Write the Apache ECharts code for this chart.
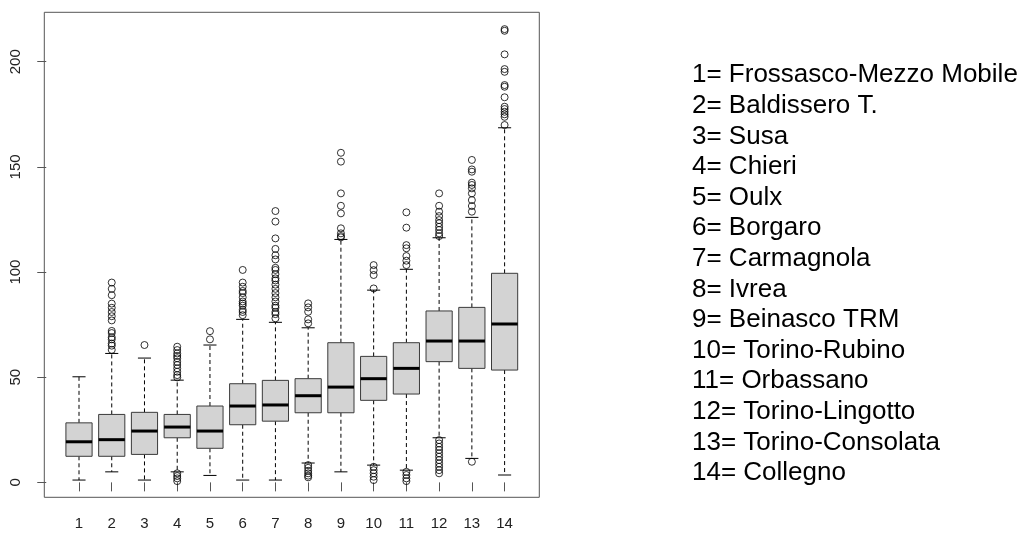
<!DOCTYPE html>
<html>
<head>
<meta charset="utf-8">
<script src="https://cdn.jsdelivr.net/npm/echarts@6/dist/echarts.min.js"></script>
<style>
html,body{margin:0;padding:0;background:#fff;}
#chart{width:1026px;height:533px;}
</style>
</head>
<body>
<div id="chart"></div>
<script>
// ---- data ----
const categories = [1,2,3,4,5,6,7,8,9,10,11,12,13,14];
const stationNames = [
  'Frossasco-Mezzo Mobile','Baldissero T.','Susa','Chieri','Oulx','Borgaro','Carmagnola',
  'Ivrea','Beinasco TRM','Torino-Rubino','Orbassano','Torino-Lingotto','Torino-Consolata','Collegno'
];
const whiskerLow  = [1.1, 5.0, 1.1, 5.0, 3.3, 1.1, 1.1, 9.2, 5.0, 8.2, 5.8, 21.2, 11.4, 3.5];
const q1          = [12.4, 12.4, 13.3, 21.2, 16.2, 27.4, 29.1, 33.1, 33.1, 39.0, 42.0, 57.4, 54.2, 53.4];
const medians     = [19.3, 20.3, 24.4, 26.3, 24.4, 36.3, 36.8, 41.2, 45.3, 49.3, 54.2, 67.2, 67.2, 75.3];
const q3          = [28.3, 32.3, 33.3, 32.3, 36.3, 46.9, 48.5, 49.3, 66.4, 59.9, 66.4, 81.5, 83.2, 99.4];
const whiskerHigh = [50.2, 61.3, 59.1, 48.6, 65.3, 77.5, 76.1, 73.5, 115.5, 91.4, 101.3, 116.3, 126.0, 168.6];
const outliers = [
  [],
  [95, 92, 89, 85, 83, 81, 79, 77, 72, 71, 69, 68, 66, 65, 63],
  [65.3],
  [64.5, 62.9, 61.3, 60.1, 59.0, 57.3, 55.8, 54.2, 52.6, 51.0, 49.9, 4.3, 3.0, 1.9, 0.6],
  [71.9, 68.0],
  [101, 95, 93, 91, 90, 88, 86, 85, 84, 82, 81, 79.5],
  [129, 124, 116, 111, 108, 106, 102, 101, 99, 97, 96, 94, 92, 90, 88, 86, 84, 83, 81, 80, 78],
  [85.1, 83.2, 81.1, 77.5, 75.6, 8.2, 6.9, 5.5, 4.3, 3.2, 2.4],
  [156.7, 152.5, 137.4, 131.5, 127.9, 120.8, 118.4, 117.1, 116.5],
  [103.3, 100.9, 98.6, 92.2, 7.4, 5.8, 4.3, 2.7, 1.1],
  [128.4, 121.1, 112.8, 111.3, 107.6, 105.4, 103.3, 5.0, 3.5, 1.9, 0.6],
  [137.4, 131.5, 128.7, 126.6, 124.7, 123.2, 121.5, 120.0, 118.4, 117.1,
   20.1, 18.5, 16.9, 15.4, 13.8, 12.2, 10.6, 9.0, 7.4, 5.8, 4.3],
  [153.3, 148.8, 147.7, 142.5, 141.4, 139.8, 137.4, 134.2, 131.4, 128.7, 9.8],
  [215.5, 214.7, 203.5, 196.5, 195.2, 188.9, 188.1, 183.1, 178.6, 177.5, 176.2, 175.0, 173.8, 169.9]
];
const yTicks = [0, 50, 100, 150, 200];

// ---- build series data ----
const boxData = categories.map((c, i) => [c, whiskerLow[i], q1[i], medians[i], q3[i], whiskerHigh[i]]);
const outlierData = [];
categories.forEach((c, i) => outliers[i].forEach(v => outlierData.push([c, v])));

const chart = echarts.init(document.getElementById('chart'), null, {renderer: 'canvas'});

function renderBox(params, api) {
  const x = api.value(0);
  const lo = api.value(1), b1 = api.value(2), md = api.value(3), b3 = api.value(4), hi = api.value(5);
  const halfBox = 0.4, halfCap = 0.2;
  const pL = api.coord([x - halfBox, b3]);
  const pR = api.coord([x + halfBox, b1]);
  const cL = api.coord([x - halfCap, lo])[0];
  const cR = api.coord([x + halfCap, lo])[0];
  const cx = api.coord([x, 0])[0];
  const yLo = api.coord([x, lo])[1];
  const yHi = api.coord([x, hi])[1];
  const yQ1 = pR[1], yQ3 = pL[1];
  const yMd = api.coord([x, md])[1];
  const dash = {stroke: '#000', lineWidth: 1, lineDash: [4, 3]};
  const solid = {stroke: '#000', lineWidth: 1};
  return {
    type: 'group',
    children: [
      {type: 'line', shape: {x1: cx, y1: yQ3, x2: cx, y2: yHi}, style: dash},
      {type: 'line', shape: {x1: cx, y1: yQ1, x2: cx, y2: yLo}, style: dash},
      {type: 'line', shape: {x1: cL, y1: yHi, x2: cR, y2: yHi}, style: solid},
      {type: 'line', shape: {x1: cL, y1: yLo, x2: cR, y2: yLo}, style: solid},
      {type: 'rect', shape: {x: pL[0], y: yQ3, width: pR[0] - pL[0], height: yQ1 - yQ3},
        style: {fill: '#d3d3d3', stroke: '#3a3a3a', lineWidth: 1}},
      {type: 'line', shape: {x1: pL[0], y1: yMd, x2: pR[0], y2: yMd}, style: {stroke: '#000', lineWidth: 3}}
    ]
  };
}

const legendTexts = stationNames.map((n, i) => ({
  type: 'text',
  left: 692,
  top: 73.3 + i * 30.6 - 11,
  style: {
    text: categories[i] + '= ' + n,
    font: '26px "Liberation Sans", Arial, sans-serif',
    fill: '#000'
  }
}));

chart.setOption({
  animation: false,
  backgroundColor: '#fff',
  grid: {left: 44.3, top: 12.3, width: 495, height: 485, show: true, borderColor: '#555', borderWidth: 1, backgroundColor: 'transparent'},
  xAxis: {
    type: 'value', min: -0.06, max: 15.06,
    splitLine: {show: false},
    axisLine: {show: false},
    axisTick: {show: true, length: 9, lineStyle: {color: '#555'}, customValues: categories},
    axisLabel: {show: true, margin: 19, fontSize: 15, color: '#222', fontFamily: 'Liberation Sans', customValues: categories}
  },
  yAxis: {
    type: 'value', min: -7.1, max: 223.5,
    splitLine: {show: false},
    axisLine: {show: false},
    axisTick: {show: true, length: 9, lineStyle: {color: '#555'}, customValues: yTicks},
    axisLabel: {show: true, margin: 21, rotate: 90, fontSize: 15, color: '#222', fontFamily: 'Liberation Sans', customValues: yTicks}
  },
  graphic: legendTexts,
  series: [
    {type: 'custom', renderItem: renderBox, data: boxData, encode: {x: 0, y: [1, 2, 3, 4, 5]}, z: 2},
    {type: 'scatter', data: outlierData, symbol: 'circle', symbolSize: 7,
      itemStyle: {color: 'rgba(0,0,0,0)', borderColor: '#000', borderWidth: 1}, z: 3}
  ]
});
</script>
</body>
</html>
